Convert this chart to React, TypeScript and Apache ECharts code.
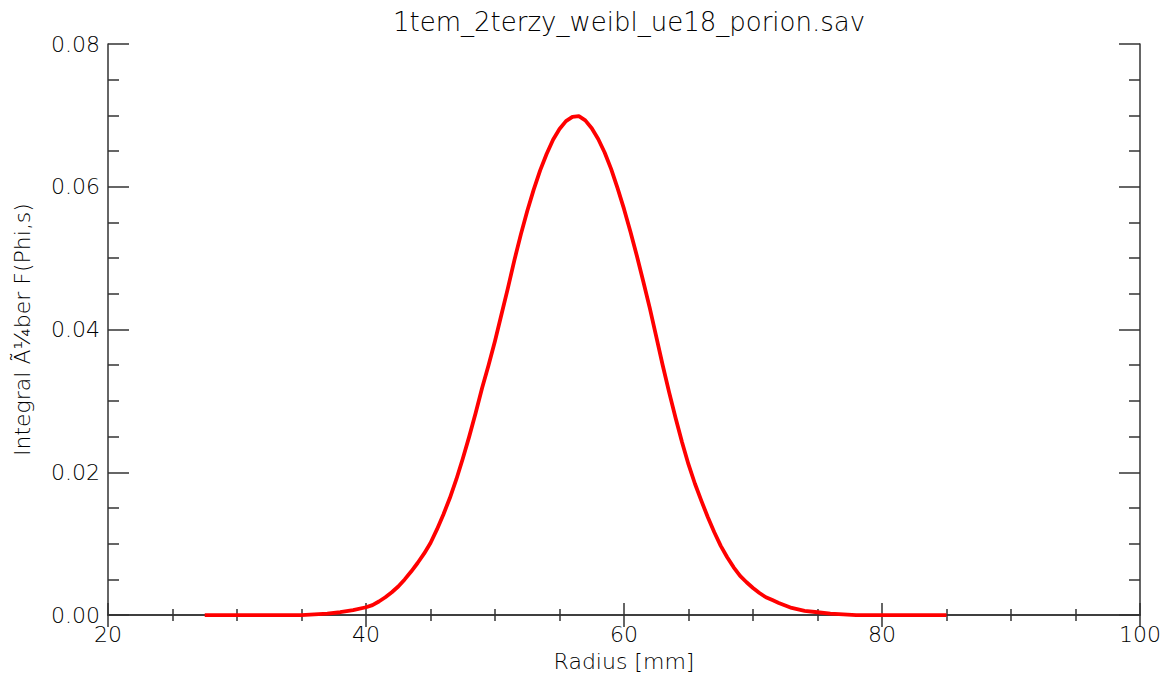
import React, { useEffect, useRef } from "react";
import * as echarts from "echarts";

const titleText = "1tem_2terzy_weibl_ue18_porion.sav";
const xName = "Radius [mm]";
const yName = "Integral Ã¼ber F(Phi,s)";

const radius = [
  27.5, 28, 29, 30, 31, 32, 33, 34, 35, 36, 37, 38, 39,
  40, 40.5, 41, 41.5, 42, 42.5, 43, 43.5, 44, 44.5, 45, 45.5, 46, 46.5, 47, 47.5, 48, 48.5, 49, 49.5,
  50, 50.5, 51, 51.5, 52, 52.5, 53, 53.5, 54, 54.5, 55, 55.5, 56, 56.5, 57, 57.5, 58, 58.5, 59, 59.5,
  60, 60.5, 61, 61.5, 62, 62.5, 63, 63.5, 64, 64.5, 65, 65.5, 66, 66.5, 67, 67.5, 68, 68.5, 69, 69.5,
  70, 70.5, 71, 71.5, 72, 73, 74, 75, 76, 77, 78, 79, 80, 81, 82, 83, 84, 85,
];
const integral = [
  0, 0, 0, 0, 0, 0, 0, 0, 0, 0.0001, 0.0002, 0.0004, 0.0007,
  0.0011, 0.0014, 0.0019, 0.0025, 0.0032, 0.004, 0.005, 0.0061, 0.0073, 0.0086, 0.0101, 0.012, 0.0141,
  0.0164, 0.019, 0.0219, 0.025, 0.0283, 0.0318, 0.035,
  0.0384, 0.0421, 0.0458, 0.0497, 0.0533, 0.0566, 0.0596, 0.0623, 0.0646, 0.0666, 0.0681, 0.0692,
  0.0698, 0.0699, 0.0693, 0.0682, 0.0667, 0.0648, 0.0625, 0.0598,
  0.0569, 0.0537, 0.0503, 0.0467, 0.043, 0.039, 0.035, 0.0312, 0.0276, 0.0242, 0.0211, 0.0184, 0.016,
  0.0137, 0.0116, 0.0097, 0.0081, 0.0067, 0.0055, 0.0046,
  0.0038, 0.0031, 0.0025, 0.0021, 0.0017, 0.001, 0.0006, 0.0004, 0.0002, 0.0001, 0, 0, 0, 0, 0, 0, 0, 0,
];

const xMin = 20;
const xMax = 100;
const xStep = 20;
const yMin = 0;
const yMax = 0.08;
const yStep = 0.02;

const FONT = "DejaVu Sans";
const AXIS_COLOR = "#333333";
const TEXT_COLOR = "#000000";

export default function App() {
  const ref = useRef<HTMLDivElement>(null);
  useEffect(() => {
    if (!ref.current) return;
    const chart = echarts.init(ref.current, undefined, { renderer: "svg" });
    const axisLine = { show: true, lineStyle: { color: AXIS_COLOR, width: 1.5 } };
    const xCommon = {
      type: "value" as const,
      min: xMin,
      max: xMax,
      interval: xStep,
      axisLine,
      axisTick: { show: true, inside: true, length: 12, lineStyle: { color: AXIS_COLOR, width: 1.5 } },
      minorTick: { show: true, splitNumber: 4, length: 6, lineStyle: { color: AXIS_COLOR, width: 1.5 } },
      splitLine: { show: false },
      minorSplitLine: { show: false },
    };
    const yCommon = {
      type: "value" as const,
      min: yMin,
      max: yMax,
      interval: yStep,
      axisLine,
      axisTick: { show: true, inside: true, length: 21, lineStyle: { color: AXIS_COLOR, width: 1.5 } },
      minorTick: { show: true, splitNumber: 4, length: 11, lineStyle: { color: AXIS_COLOR, width: 1.5 } },
      splitLine: { show: false },
      minorSplitLine: { show: false },
    };
    chart.setOption({
      animation: false,
      backgroundColor: "#ffffff",
      title: {
        text: titleText,
        left: 624,
        textAlign: "center",
        top: 4,
        textStyle: { fontFamily: FONT, fontSize: 26, fontWeight: 300, color: TEXT_COLOR },
      },
      grid: { left: 108, top: 44, right: 29, bottom: 59, containLabel: false },
      xAxis: [
        {
          ...xCommon,
          position: "bottom",
          name: xName,
          nameLocation: "middle",
          nameGap: 33,
          nameTextStyle: { fontFamily: FONT, fontSize: 22, fontWeight: 300, color: TEXT_COLOR },
          axisLabel: { show: true, margin: 8, fontFamily: FONT, fontSize: 22, fontWeight: 300, color: TEXT_COLOR },
        },
        {
          ...xCommon,
          position: "top",
          axisLabel: { show: false },
        },
      ],
      yAxis: [
        {
          ...yCommon,
          position: "left",
          name: yName,
          nameLocation: "middle",
          nameGap: 75,
          nameTextStyle: { fontFamily: FONT, fontSize: 22, fontWeight: 300, color: TEXT_COLOR },
          axisLabel: {
            show: true,
            margin: 8,
            fontFamily: FONT,
            fontSize: 22,
            fontWeight: 300,
            color: TEXT_COLOR,
            formatter: (v: number) => v.toFixed(2),
          },
        },
        {
          ...yCommon,
          position: "right",
          axisLabel: { show: false },
        },
      ],
      series: [
        {
          type: "line",
          xAxisIndex: 0,
          yAxisIndex: 0,
          data: radius.map((r, i) => [r, integral[i]]),
          showSymbol: false,
          smooth: false,
          lineStyle: { color: "#ff0000", width: 3.8, join: "round", cap: "butt" },
          itemStyle: { color: "#ff0000" },
          z: 5,
        },
      ],
    });
    return () => chart.dispose();
  }, []);
  return (
    <div
      ref={ref}
      style={{ position: "fixed", left: 0, top: 0, width: 1169, height: 677, background: "#fff" }}
    />
  );
}
